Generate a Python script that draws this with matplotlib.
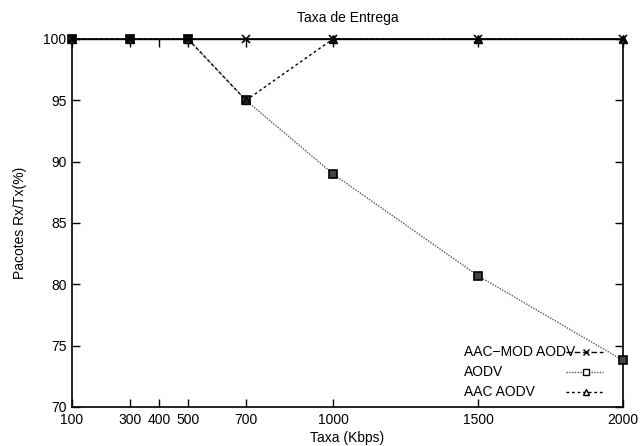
import matplotlib
matplotlib.use("Agg")
import matplotlib.pyplot as plt

plt.rcParams['font.family'] = ['Liberation Sans', 'DejaVu Sans']

rates = [100, 300, 500, 700, 1000, 1500, 2000]
aac_mod = [100, 100, 100, 100, 100, 100, 100]
aodv = [100, 100, 100, 95, 89, 80.7, 73.8]
aac = [100, 100, 100, 95, 100, 100, 100]
xticks = [100, 300, 400, 500, 700, 1000, 1500, 2000]
yticks = [70, 75, 80, 85, 90, 95, 100]
labels = ['AAC\u2212MOD AODV', 'AODV', 'AAC AODV']

fig = plt.figure(figsize=(6.4, 4.46), dpi=100)
ax = fig.add_axes([72/640, 1-407/446, 551/640, 368/446])

styles = [
    dict(color='black', linestyle=(0, (4, 2)), linewidth=1.0, marker='x', markersize=6, mew=1.2),
    dict(color='#555555', linestyle=(0, (1, 1)), linewidth=1.0, marker='s', markersize=6,
         mfc='#444444', mec='black', mew=1.2),
    dict(color='black', linestyle=(0, (2, 2)), linewidth=1.0, marker='^', markersize=6,
         mfc='#222222', mec='black', mew=1.0),
]

ax.plot(rates, aodv, **styles[1], zorder=3, clip_on=False)
ax.plot(rates, aac, **styles[2], zorder=3, clip_on=False)
ax.plot(rates, aac_mod, **{**styles[0], 'linestyle': '-'}, zorder=4, clip_on=False)

ax.set_xlim(100, 2000)
ax.set_ylim(70, 100)
ax.set_xticks(xticks)
ax.set_xticklabels([str(v) for v in xticks])
ax.set_yticks(yticks)
ax.tick_params(direction='in', length=6, width=1, top=True, right=True, labelsize=10, pad=4)
for s in ax.spines.values():
    s.set_linewidth(1.2)

ax.set_title('Taxa de Entrega', fontsize=10, pad=12)
ax.set_xlabel('Taxa (Kbps)', fontsize=10, labelpad=3)
ax.set_ylabel('Pacotes Rx/Tx(%)', fontsize=10, labelpad=12)

# legend (gnuplot style: text left, sample right)
legend_markers = ['x', 's', '^']
rows_y = [0.149, 0.095, 0.041]
for lab, st, mk, yy in zip(labels, styles, legend_markers, rows_y):
    ax.text(0.711, yy, lab, transform=ax.transAxes, fontsize=10, va='center', ha='left')
    ax.plot([0.897, 0.964], [yy, yy], transform=ax.transAxes, color=st['color'],
            linestyle=st['linestyle'], linewidth=1.0, clip_on=False)
    ax.plot([0.933], [yy], transform=ax.transAxes, linestyle='none', marker=mk,
            markersize=5, mfc='white' if mk != 'x' else 'black',
            mec='black', mew=1.0, clip_on=False)

fig.savefig('out.png', dpi=100)
